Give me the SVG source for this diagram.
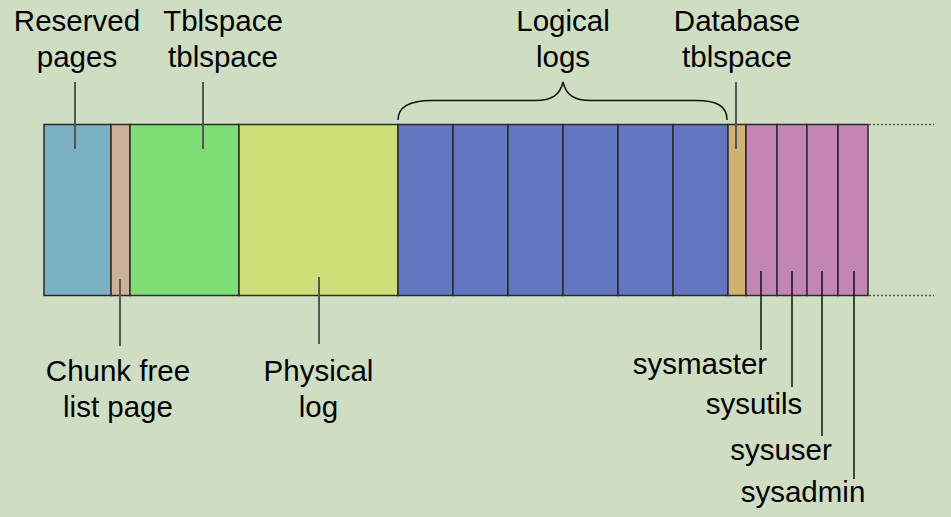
<svg xmlns="http://www.w3.org/2000/svg" width="951" height="517" viewBox="0 0 951 517">
<style>
.seg{stroke:#2a2a2a;stroke-width:1.5}
.lead{stroke:#555;stroke-width:2;fill:none}
.lead2{stroke:#111;stroke-width:1.5;fill:none}
.dot{stroke:#555;stroke-width:1.5;stroke-dasharray:2,2;fill:none}
text{font-family:"Liberation Sans",Arial,sans-serif;font-size:29.5px;fill:#000;text-anchor:middle}
</style>
<rect x="0" y="0" width="951" height="517" fill="#cfdec3"/>
<g id="reserved"><rect class="seg" x="44" y="124.5" width="67" height="171" fill="#7ab2c3"/></g>
<g id="chunkfree"><rect class="seg" x="111" y="124.5" width="19" height="171" fill="#cdb09a"/></g>
<g id="tblspace"><rect class="seg" x="130" y="124.5" width="109" height="171" fill="#7ede75"/></g>
<g id="physical"><rect class="seg" x="239" y="124.5" width="159" height="171" fill="#cfdf77"/></g>
<g id="logical">
<rect class="seg" x="398" y="124.5" width="55" height="171" fill="#6276c2"/>
<rect class="seg" x="453" y="124.5" width="55" height="171" fill="#6276c2"/>
<rect class="seg" x="508" y="124.5" width="55" height="171" fill="#6276c2"/>
<rect class="seg" x="563" y="124.5" width="55" height="171" fill="#6276c2"/>
<rect class="seg" x="618" y="124.5" width="55" height="171" fill="#6276c2"/>
<rect class="seg" x="673" y="124.5" width="55" height="171" fill="#6276c2"/>
</g>
<g id="dbtblspace"><rect class="seg" x="728" y="124.5" width="18" height="171" fill="#cfb173"/></g>
<g id="sysdbs">
<rect class="seg" x="746" y="124.5" width="31" height="171" fill="#c285b5"/>
<rect class="seg" x="777" y="124.5" width="30" height="171" fill="#c285b5"/>
<rect class="seg" x="807" y="124.5" width="31" height="171" fill="#c285b5"/>
<rect class="seg" x="838" y="124.5" width="30" height="171" fill="#c285b5"/>
</g>
<g id="connectors">
<line class="dot" x1="869" y1="124.5" x2="934" y2="124.5"/>
<line class="dot" x1="869" y1="295.5" x2="934" y2="295.5"/>
<line class="lead" x1="75" y1="82" x2="75" y2="149"/>
<line class="lead" x1="203" y1="82" x2="203" y2="149"/>
<line class="lead" x1="736" y1="82" x2="736" y2="149"/>
<line class="lead" x1="120" y1="279" x2="120" y2="346"/>
<line class="lead" x1="319" y1="277" x2="319" y2="344"/>
<line class="lead2" x1="761" y1="271" x2="761" y2="350"/>
<line class="lead2" x1="792" y1="271" x2="792" y2="387"/>
<line class="lead2" x1="822" y1="271" x2="822" y2="436"/>
<line class="lead2" x1="854" y1="271" x2="854" y2="479"/>
<path class="lead2" d="M398,120 C398,106 410,100.5 432,100.5 L535,100.5 C552,100.5 560,95 563,82 C566,95 574,100.5 591,100.5 L696,100.5 C717,100.5 727,106 727,120"/>
</g>
<g id="labels">
<text x="77" y="31">Reserved</text>
<text x="77" y="67">pages</text>
<text x="223" y="31">Tblspace</text>
<text x="223" y="67">tblspace</text>
<text x="563" y="31">Logical</text>
<text x="563" y="67">logs</text>
<text x="737" y="31">Database</text>
<text x="737" y="67">tblspace</text>
<text x="118" y="381">Chunk free</text>
<text x="118" y="417">list page</text>
<text x="318.5" y="381">Physical</text>
<text x="318.5" y="417">log</text>
<text x="700" y="374">sysmaster</text>
<text x="754" y="414">sysutils</text>
<text x="781" y="460">sysuser</text>
<text x="803" y="502">sysadmin</text>
</g>
</svg>
